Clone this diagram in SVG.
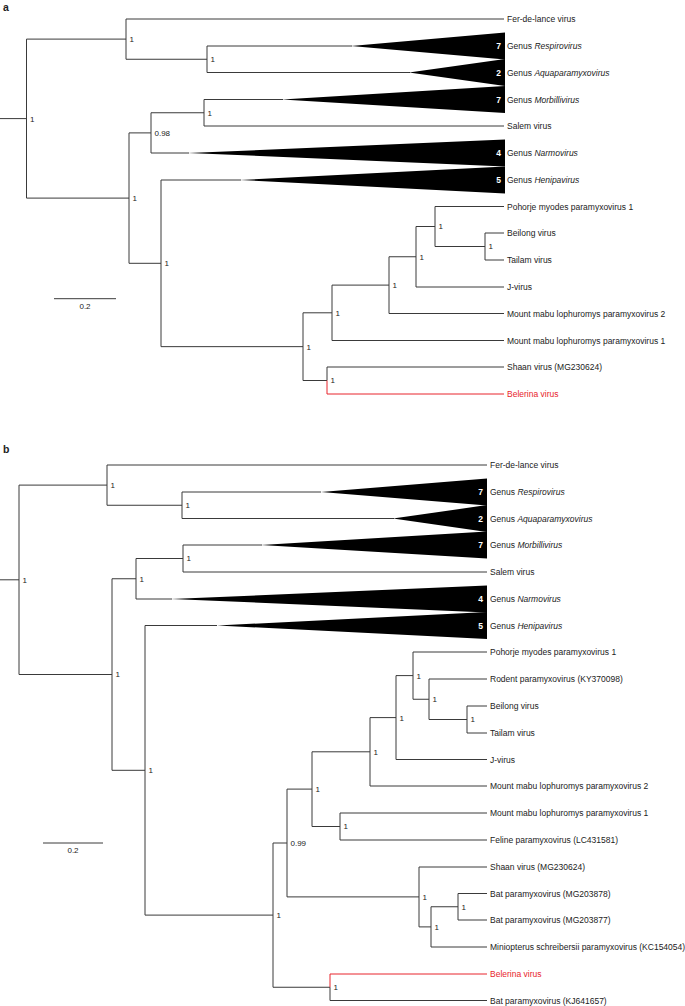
<svg xmlns="http://www.w3.org/2000/svg" width="685" height="1006" viewBox="0 0 685 1006">
<style>
.br{stroke:#3a3a3a;stroke-width:1;fill:none}
.red{stroke:#e8242c;stroke-width:1;fill:none}
.tri{fill:#000}
.lf{font-family:"Liberation Sans",Arial,sans-serif;font-size:8.5px;fill:#222}
.lfr{font-family:"Liberation Sans",Arial,sans-serif;font-size:8.5px;fill:#e8242c}
.nl{font-family:"Liberation Sans",Arial,sans-serif;font-size:8px;fill:#222}
.ct{font-family:"Liberation Sans",Arial,sans-serif;font-size:8.5px;font-weight:bold;fill:#fff;text-anchor:end}
.pl{font-family:"Liberation Sans",Arial,sans-serif;font-size:10.5px;font-weight:bold;fill:#222}
.sc{font-family:"Liberation Sans",Arial,sans-serif;font-size:8px;fill:#222;text-anchor:middle}
.it{font-style:italic}
</style>
<rect width="685" height="1006" fill="#fff"/>
<text class="pl" x="3" y="10.5">a</text>
<text class="pl" x="3" y="452.5">b</text>
<g id="connectors">
<path class="br" d="M0,118.6H26.5 M26.5,39.1V198.1 M26.5,39.1H126 M126,19V59.25 M126,19H504 M126,59.25H207 M207,46V72.5 M207,46H352 M207,72.5H410 M26.5,198.1H129 M129,132.9V263.3 M129,132.9H151 M151,112.75V153 M151,112.75H204 M204,99.5V126 M204,99.5H283 M204,126H504 M151,153H189 M129,263.3H161 M161,180V346.65 M161,180H241 M161,346.65H303 M303,312.8V380.5 M303,312.8H332 M332,285.1V340.5 M332,285.1H389 M389,256.75V313.5 M389,256.75H416 M416,226.5V287 M416,226.5H435 M435,206.5V246.5 M435,206.5H504 M435,246.5H485 M485,233V260 M485,233H504 M485,260H504 M416,287H504 M389,313.5H504 M332,340.5H504 M303,380.5H327 M327,367V380.5 M327,367H504"/>
<path class="red" d="M327,380.5V394H504"/>
<path class="br" d="M0,579.8H19 M19,485.1V674.5 M19,485.1H107 M107,465V505.25 M107,465H487 M107,505.25H182 M182,492V518.5 M182,492H321 M182,518.5H394 M19,674.5H112 M112,578.75V770.3 M112,578.75H136 M136,558.5V599 M136,558.5H183 M183,545V572 M183,545H262 M183,572H487 M136,599H172 M112,770.3H145 M145,625.5V915.1 M145,625.5H217 M145,915.1H273 M273,843V987.25 M273,843H287 M287,789.1V896.9 M287,789.1H312 M312,751.8V826.5 M312,751.8H370 M370,717.6V786 M370,717.6H396 M396,675.6V759.5 M396,675.6H413 M413,652V699.25 M413,652H487 M413,699.25H429 M429,679V719.5 M429,679H487 M429,719.5H467 M467,706V733 M467,706H487 M467,733H487 M396,759.5H487 M370,786H487 M312,826.5H340 M340,813V840 M340,813H487 M340,840H487 M287,896.9H419 M419,867V926.9 M419,867H487 M419,926.9H431 M431,906.75V947 M431,906.75H458 M458,893.5V920 M458,893.5H487 M458,920H487 M431,947H487 M273,987.25H330 M330,987.25V1000.5H487"/>
<path class="red" d="M330,987.25V974H487"/>
<path class="br" d="M54,298.7H116 M43,843H103"/>
</g>
<g id="scale-a"><text class="sc" x="85" y="309">0.2</text></g>
<g id="scale-b"><text class="sc" x="73" y="853">0.2</text></g>
<g id="a-leaves">
<g id="a-ferdelance"><text class="lf" x="507" y="22">Fer-de-lance virus</text></g>
<g id="a-respirovirus"><polygon class="tri" points="351,46 505,32.6 505,59.4"/><text class="ct" x="501" y="49">7</text><text class="lf" x="507" y="49">Genus <tspan class="it">Respirovirus</tspan></text></g>
<g id="a-aquaparamyxovirus"><polygon class="tri" points="409,72.5 505,59.1 505,85.9"/><text class="ct" x="501" y="75.5">2</text><text class="lf" x="507" y="75.5">Genus <tspan class="it">Aquaparamyxovirus</tspan></text></g>
<g id="a-morbillivirus"><polygon class="tri" points="282,99.5 505,86.1 505,112.9"/><text class="ct" x="501" y="102.5">7</text><text class="lf" x="507" y="102.5">Genus <tspan class="it">Morbillivirus</tspan></text></g>
<g id="a-salem"><text class="lf" x="507" y="129">Salem virus</text></g>
<g id="a-narmovirus"><polygon class="tri" points="188,153 505,139.6 505,166.4"/><text class="ct" x="501" y="156">4</text><text class="lf" x="507" y="156">Genus <tspan class="it">Narmovirus</tspan></text></g>
<g id="a-henipavirus"><polygon class="tri" points="240,180 505,166.6 505,193.4"/><text class="ct" x="501" y="183">5</text><text class="lf" x="507" y="183">Genus <tspan class="it">Henipavirus</tspan></text></g>
<g id="a-pohorje"><text class="lf" x="507" y="209.5">Pohorje myodes paramyxovirus 1</text></g>
<g id="a-beilong"><text class="lf" x="507" y="236">Beilong virus</text></g>
<g id="a-tailam"><text class="lf" x="507" y="263">Tailam virus</text></g>
<g id="a-jvirus"><text class="lf" x="507" y="290">J-virus</text></g>
<g id="a-mml2"><text class="lf" x="507" y="316.5">Mount mabu lophuromys paramyxovirus 2</text></g>
<g id="a-mml1"><text class="lf" x="507" y="343.5">Mount mabu lophuromys paramyxovirus 1</text></g>
<g id="a-shaan"><text class="lf" x="507" y="370">Shaan virus (MG230624)</text></g>
<g id="a-belerina"><text class="lfr" x="507" y="397">Belerina virus</text></g>
</g>
<g id="a-support">
<g id="a-n1"><text class="nl" x="30" y="121.5">1</text></g>
<g id="a-n2"><text class="nl" x="129.5" y="42">1</text></g>
<g id="a-n3"><text class="nl" x="210.5" y="62.1">1</text></g>
<g id="a-n4"><text class="nl" x="207.5" y="115.6">1</text></g>
<g id="a-n5"><text class="nl" x="154.5" y="135.8">0.98</text></g>
<g id="a-n6"><text class="nl" x="132.5" y="201">1</text></g>
<g id="a-n7"><text class="nl" x="164.5" y="266.2">1</text></g>
<g id="a-n8"><text class="nl" x="306.5" y="349.5">1</text></g>
<g id="a-n9"><text class="nl" x="335.5" y="315.7">1</text></g>
<g id="a-n10"><text class="nl" x="392.5" y="288">1</text></g>
<g id="a-n11"><text class="nl" x="419.5" y="259.6">1</text></g>
<g id="a-n12"><text class="nl" x="438.5" y="229.4">1</text></g>
<g id="a-n13"><text class="nl" x="488.5" y="249.4">1</text></g>
<g id="a-n14"><text class="nl" x="330.5" y="383.4">1</text></g>
</g>
<g id="b-leaves">
<g id="b-ferdelance"><text class="lf" x="490" y="468">Fer-de-lance virus</text></g>
<g id="b-respirovirus"><polygon class="tri" points="321,492 487,478.6 487,505.4"/><text class="ct" x="483" y="495">7</text><text class="lf" x="490" y="495">Genus <tspan class="it">Respirovirus</tspan></text></g>
<g id="b-aquaparamyxovirus"><polygon class="tri" points="393,518.5 487,505.1 487,531.9"/><text class="ct" x="483" y="521.5">2</text><text class="lf" x="490" y="521.5">Genus <tspan class="it">Aquaparamyxovirus</tspan></text></g>
<g id="b-morbillivirus"><polygon class="tri" points="261,545 487,531.6 487,558.4"/><text class="ct" x="483" y="548">7</text><text class="lf" x="490" y="548">Genus <tspan class="it">Morbillivirus</tspan></text></g>
<g id="b-salem"><text class="lf" x="490" y="575">Salem virus</text></g>
<g id="b-narmovirus"><polygon class="tri" points="171,599 487,585.6 487,612.4"/><text class="ct" x="483" y="602">4</text><text class="lf" x="490" y="602">Genus <tspan class="it">Narmovirus</tspan></text></g>
<g id="b-henipavirus"><polygon class="tri" points="217,625.5 487,612.1 487,638.9"/><text class="ct" x="483" y="628.5">5</text><text class="lf" x="490" y="628.5">Genus <tspan class="it">Henipavirus</tspan></text></g>
<g id="b-pohorje"><text class="lf" x="490" y="655">Pohorje myodes paramyxovirus 1</text></g>
<g id="b-rodent"><text class="lf" x="490" y="682">Rodent paramyxovirus (KY370098)</text></g>
<g id="b-beilong"><text class="lf" x="490" y="709">Beilong virus</text></g>
<g id="b-tailam"><text class="lf" x="490" y="736">Tailam virus</text></g>
<g id="b-jvirus"><text class="lf" x="490" y="762.5">J-virus</text></g>
<g id="b-mml2"><text class="lf" x="490" y="789">Mount mabu lophuromys paramyxovirus 2</text></g>
<g id="b-mml1"><text class="lf" x="490" y="816">Mount mabu lophuromys paramyxovirus 1</text></g>
<g id="b-feline"><text class="lf" x="490" y="843">Feline paramyxovirus (LC431581)</text></g>
<g id="b-shaan"><text class="lf" x="490" y="870">Shaan virus (MG230624)</text></g>
<g id="b-mg203878"><text class="lf" x="490" y="896.5">Bat paramyxovirus (MG203878)</text></g>
<g id="b-mg203877"><text class="lf" x="490" y="923">Bat paramyxovirus (MG203877)</text></g>
<g id="b-miniopterus"><text class="lf" x="490" y="950">Miniopterus schreibersii paramyxovirus (KC154054)</text></g>
<g id="b-belerina"><text class="lfr" x="490" y="977">Belerina virus</text></g>
<g id="b-kj641657"><text class="lf" x="490" y="1003.5">Bat paramyxovirus (KJ641657)</text></g>
</g>
<g id="b-support">
<g id="b-n1"><text class="nl" x="22.5" y="582.7">1</text></g>
<g id="b-n2"><text class="nl" x="110.5" y="488">1</text></g>
<g id="b-n3"><text class="nl" x="185.5" y="508.1">1</text></g>
<g id="b-n4"><text class="nl" x="186.5" y="561.4">1</text></g>
<g id="b-n5"><text class="nl" x="139.5" y="581.6">1</text></g>
<g id="b-n6"><text class="nl" x="115.5" y="677.4">1</text></g>
<g id="b-n7"><text class="nl" x="148.5" y="773.2">1</text></g>
<g id="b-n8"><text class="nl" x="276.5" y="918">1</text></g>
<g id="b-n9"><text class="nl" x="290.5" y="845.9">0.99</text></g>
<g id="b-n10"><text class="nl" x="315.5" y="792">1</text></g>
<g id="b-n11"><text class="nl" x="373.5" y="754.7">1</text></g>
<g id="b-n12"><text class="nl" x="399.5" y="720.5">1</text></g>
<g id="b-n13"><text class="nl" x="416.5" y="678.5">1</text></g>
<g id="b-n14"><text class="nl" x="432.5" y="702.1">1</text></g>
<g id="b-n15"><text class="nl" x="470.5" y="722.4">1</text></g>
<g id="b-n16"><text class="nl" x="343.5" y="829.4">1</text></g>
<g id="b-n17"><text class="nl" x="422.5" y="899.8">1</text></g>
<g id="b-n18"><text class="nl" x="434.5" y="929.8">1</text></g>
<g id="b-n19"><text class="nl" x="461.5" y="909.6">1</text></g>
<g id="b-n20"><text class="nl" x="333.5" y="990.1">1</text></g>
</g>
</svg>
